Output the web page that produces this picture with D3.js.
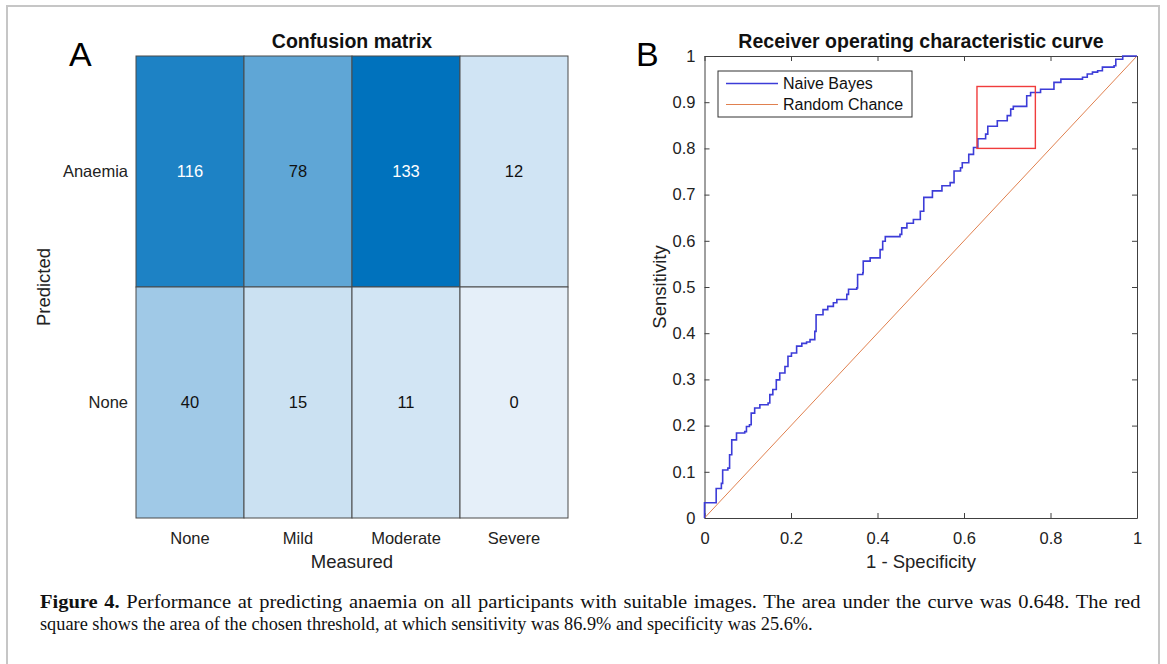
<!DOCTYPE html>
<html>
<head>
<meta charset="utf-8">
<script src="https://cdn.jsdelivr.net/npm/d3@7"></script>
<style>
  html, body { margin: 0; padding: 0; background: #fff; }
  svg { display: block; }
</style>
</head>
<body>
<div id="chart"></div>
<script>
// ---- 数据 ----
const measuredCats = ["None", "Mild", "Moderate", "Severe"];
const predictedCats = ["Anaemia", "None"];
const anaemiaCounts = [116, 78, 133, 12];
const noneCounts = [40, 15, 11, 0];

// ROC 阶梯拐点 (1 - specificity, sensitivity)
const rocFpr = [0, 0, 0.027, 0.039, 0.042, 0.054, 0.058, 0.063, 0.074, 0.093, 0.097, 0.104, 0.108, 0.116,
  0.128, 0.147, 0.151, 0.158, 0.166, 0.174, 0.186, 0.193, 0.201, 0.213, 0.225, 0.236, 0.244, 0.255,
  0.258, 0.274, 0.285, 0.298, 0.306, 0.329, 0.333, 0.352, 0.354, 0.366, 0.367, 0.383, 0.406, 0.412,
  0.418, 0.452, 0.456, 0.468, 0.483, 0.499, 0.507, 0.527, 0.549, 0.568, 0.577, 0.592, 0.596, 0.611,
  0.622, 0.632, 0.650, 0.655, 0.677, 0.700, 0.708, 0.714, 0.745, 0.754, 0.777, 0.808, 0.824, 0.874,
  0.885, 0.897, 0.909, 0.920, 0.947, 0.951, 0.967, 1.0];
const rocTpr = [0, 0.033, 0.064, 0.075, 0.104, 0.108, 0.137, 0.169, 0.184, 0.187, 0.198, 0.202, 0.227, 0.238,
  0.245, 0.249, 0.267, 0.278, 0.299, 0.314, 0.328, 0.350, 0.357, 0.372, 0.378, 0.381, 0.386, 0.404,
  0.440, 0.451, 0.458, 0.466, 0.473, 0.484, 0.495, 0.498, 0.527, 0.531, 0.556, 0.563, 0.581, 0.599,
  0.609, 0.614, 0.628, 0.638, 0.646, 0.664, 0.694, 0.708, 0.719, 0.726, 0.751, 0.758, 0.769, 0.787,
  0.802, 0.821, 0.831, 0.848, 0.860, 0.871, 0.885, 0.891, 0.914, 0.921, 0.928, 0.943, 0.950, 0.954,
  0.961, 0.965, 0.968, 0.976, 0.979, 0.993, 1.0, 1.0];
const chanceFpr = [0, 1];
const chanceTpr = [0, 1];
const thresholdFpr = [0.63, 0.765];
const thresholdTpr = [0.80, 0.934];

const rocXTicks = [0, 0.2, 0.4, 0.6, 0.8, 1];
const rocYTicks = [0, 0.1, 0.2, 0.3, 0.4, 0.5, 0.6, 0.7, 0.8, 0.9, 1];
const legendLabels = ["Naive Bayes", "Random Chance"];

const captionBold = "Figure 4.";
const captionLines = [
  " Performance at predicting anaemia on all participants with suitable images. The area under the curve was 0.648. The red",
  "square shows the area of the chosen threshold, at which sensitivity was 86.9% and specificity was 25.6%."
];

// ---- 画布 ----
const W = 1167, H = 664;
const FONT = "'Liberation Sans', Arial, Helvetica, sans-serif";
const svg = d3.select("#chart").append("svg")
  .attr("width", W).attr("height", H)
  .style("font-family", FONT);

svg.append("rect").attr("width", W).attr("height", H).attr("fill", "#fff");
// 外框
svg.append("rect")
  .attr("x", 7).attr("y", 6).attr("width", 1152).attr("height", 700)
  .attr("fill", "none").attr("stroke", "#c6c6c6").attr("stroke-width", 2);

/**
 * 绘制混淆矩阵
 */
function drawConfusion() {
  const g = svg.append("g");
  const x = d3.scaleBand().domain(measuredCats).range([136, 568]);
  const y = d3.scaleBand().domain(predictedCats).range([56, 518]);
  const color = d3.scaleLinear().domain([0, 133]).range(["#e5eff9", "#0072bd"]);

  const cells = [];
  predictedCats.forEach((p, i) => {
    const row = i === 0 ? anaemiaCounts : noneCounts;
    measuredCats.forEach((m, j) => cells.push({ p, m, v: row[j] }));
  });

  g.selectAll("rect.cell").data(cells).enter().append("rect")
    .attr("class", "cell")
    .attr("x", d => x(d.m)).attr("y", d => y(d.p))
    .attr("width", x.bandwidth()).attr("height", y.bandwidth())
    .attr("fill", d => color(d.v))
    .attr("stroke", "#4a4a4a").attr("stroke-width", 1);

  g.selectAll("text.val").data(cells).enter().append("text")
    .attr("x", d => x(d.m) + x.bandwidth() / 2)
    .attr("y", d => y(d.p) + y.bandwidth() / 2)
    .attr("dy", "0.35em")
    .attr("text-anchor", "middle")
    .attr("font-size", 16.5)
    .attr("fill", d => d3.hsl(color(d.v)).l < 0.6 ? "#fff" : "#111")
    .text(d => d.v);

  // 坐标标签
  g.selectAll("text.xt").data(measuredCats).enter().append("text")
    .attr("x", d => x(d) + x.bandwidth() / 2).attr("y", 538).attr("dy", "0.35em")
    .attr("text-anchor", "middle").attr("font-size", 16.5).attr("fill", "#222").text(d => d);
  g.selectAll("text.yt").data(predictedCats).enter().append("text")
    .attr("x", 128).attr("y", d => y(d) + y.bandwidth() / 2).attr("dy", "0.35em")
    .attr("text-anchor", "end").attr("font-size", 16.5).attr("fill", "#222").text(d => d);

  g.append("text").attr("x", 352).attr("y", 562).attr("dy", "0.35em")
    .attr("text-anchor", "middle").attr("font-size", 18.5).attr("fill", "#222").text("Measured");
  g.append("text").attr("transform", "translate(44,287) rotate(-90)").attr("dy", "0.35em")
    .attr("text-anchor", "middle").attr("font-size", 18.5).attr("fill", "#222").text("Predicted");
  g.append("text").attr("x", 352).attr("y", 48)
    .attr("text-anchor", "middle").attr("font-size", 19.5).attr("font-weight", "bold")
    .attr("fill", "#111").text("Confusion matrix");
  g.append("text").attr("x", 69).attr("y", 66)
    .attr("font-size", 34).attr("fill", "#000").text("A");
}

/**
 * 绘制 ROC 曲线
 */
function drawRoc() {
  const g = svg.append("g");
  const x = d3.scaleLinear().domain([0, 1]).range([704.5, 1137]);
  const y = d3.scaleLinear().domain([0, 1]).range([518, 56]);
  const fmt = d => String(d);

  const styleAxis = sel => {
    sel.selectAll("path, line").attr("stroke", "#404040");
    sel.selectAll("text").attr("font-size", 16.5).attr("fill", "#222").attr("font-family", FONT);
  };

  g.append("g").attr("transform", `translate(0,${y(0)})`)
    .call(d3.axisBottom(x).tickValues(rocXTicks).tickFormat(fmt).tickSizeInner(-5).tickSizeOuter(0).tickPadding(14))
    .call(styleAxis);
  g.append("g").attr("transform", `translate(0,${y(1)})`)
    .call(d3.axisTop(x).tickValues(rocXTicks).tickFormat("").tickSizeInner(-5).tickSizeOuter(0))
    .call(styleAxis);
  g.append("g").attr("transform", `translate(${x(0)},0)`)
    .call(d3.axisLeft(y).tickValues(rocYTicks).tickFormat(fmt).tickSizeInner(-5).tickSizeOuter(0).tickPadding(9))
    .call(styleAxis);
  g.append("g").attr("transform", `translate(${x(1)},0)`)
    .call(d3.axisRight(y).tickValues(rocYTicks).tickFormat("").tickSizeInner(-5).tickSizeOuter(0))
    .call(styleAxis);
  g.selectAll(".domain").attr("fill", "none");

  // 随机线
  const chance = chanceFpr.map((f, i) => [f, chanceTpr[i]]);
  g.append("path").datum(chance)
    .attr("d", d3.line().x(d => x(d[0])).y(d => y(d[1])))
    .attr("fill", "none").attr("stroke", "#e0804f").attr("stroke-width", 1);

  // ROC 阶梯
  const roc = rocFpr.map((f, i) => [f, rocTpr[i]]);
  g.append("path").datum(roc)
    .attr("d", d3.line().curve(d3.curveStepAfter).x(d => x(d[0])).y(d => y(d[1])))
    .attr("fill", "none").attr("stroke", "#3c3cd8").attr("stroke-width", 1.6);

  // 阈值方框
  g.append("rect")
    .attr("x", x(thresholdFpr[0])).attr("y", y(thresholdTpr[1]))
    .attr("width", x(thresholdFpr[1]) - x(thresholdFpr[0]))
    .attr("height", y(thresholdTpr[0]) - y(thresholdTpr[1]))
    .attr("fill", "none").attr("stroke", "#f03c3c").attr("stroke-width", 1.4);

  // 图例
  const lg = g.append("g");
  lg.append("rect").attr("x", 718).attr("y", 71).attr("width", 194).attr("height", 46)
    .attr("fill", "#fff").attr("stroke", "#333").attr("stroke-width", 1);
  const legendColors = ["#3c3cd8", "#e0804f"];
  legendLabels.forEach((t, i) => {
    const ly = 83.5 + i * 21;
    lg.append("line").attr("x1", 726).attr("x2", 778).attr("y1", ly).attr("y2", ly)
      .attr("stroke", legendColors[i]).attr("stroke-width", i === 0 ? 1.4 : 1);
    lg.append("text").attr("x", 783).attr("y", ly).attr("dy", "0.35em")
      .attr("font-size", 16).attr("fill", "#111").text(t);
  });

  g.append("text").attr("x", 921).attr("y", 562).attr("dy", "0.35em")
    .attr("text-anchor", "middle").attr("font-size", 18.5).attr("fill", "#222").text("1 - Specificity");
  g.append("text").attr("transform", "translate(660,287) rotate(-90)").attr("dy", "0.35em")
    .attr("text-anchor", "middle").attr("font-size", 18.5).attr("fill", "#222").text("Sensitivity");
  g.append("text").attr("x", 921).attr("y", 48)
    .attr("text-anchor", "middle").attr("font-size", 19.5).attr("font-weight", "bold")
    .attr("fill", "#111").text("Receiver operating characteristic curve");
  g.append("text").attr("x", 636).attr("y", 66)
    .attr("font-size", 34).attr("fill", "#000").text("B");
}

/**
 * 图注：第二行定出水平缩放，第一行略放宽并补少量词间距
 */
function drawCaption() {
  const x0 = 40;
  const ends = [1141, 813];
  const baselines = [608, 630];
  const texts = captionLines.map((line, i) => {
    const t = svg.append("text")
      .attr("font-family", "'Liberation Serif', 'DejaVu Serif', serif")
      .attr("font-size", 19.5).attr("fill", "#111");
    if (i === 0) t.append("tspan").attr("font-weight", "bold").text(captionBold);
    t.append("tspan").text(line);
    return t;
  });
  const k2 = (ends[1] - x0) / texts[1].node().getComputedTextLength();
  const natural0 = texts[0].node().getComputedTextLength();
  const k1 = Math.min(k2 * 1.12, (ends[0] - x0) / natural0);
  const spaces = (captionBold + captionLines[0]).split(" ").length - 1;
  const extra = ((ends[0] - x0) / k1 - natural0) / spaces;
  texts[0].attr("word-spacing", extra);
  texts[0].attr("transform", `translate(${x0},${baselines[0]}) scale(${k1},1)`);
  texts[1].attr("transform", `translate(${x0},${baselines[1]}) scale(${k2},1)`);
}

drawConfusion();
drawRoc();
drawCaption();
</script>
</body>
</html>
